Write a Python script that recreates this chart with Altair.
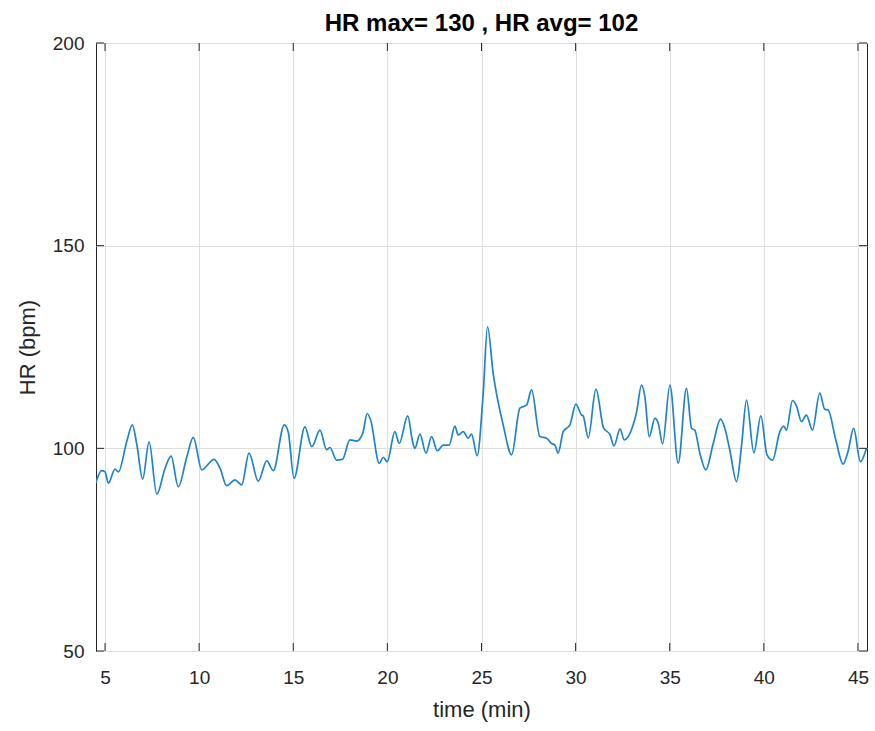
import altair as alt
import pandas as pd

# time (min) and heart rate (bpm)
time_min = [4.50, 4.82, 5.00, 5.18, 5.53, 5.71, 6.15, 6.45, 6.68, 7.00, 7.34, 7.75, 8.19, 8.51,
            8.89, 9.34, 9.69, 10.14, 10.79, 11.11, 11.46, 11.90, 12.26, 12.65, 13.14, 13.59,
            13.94, 14.52, 14.73, 15.04, 15.62, 15.98, 16.42, 16.77, 16.95, 17.30, 17.62, 18.01,
            18.37, 18.69, 18.93, 19.11, 19.57, 19.78, 19.99, 20.40, 20.63, 21.08, 21.34, 21.46,
            21.73, 22.05, 22.35, 22.65, 22.97, 23.28, 23.59, 23.76, 24.03, 24.29, 24.47, 24.77,
            25.09, 25.32, 25.62, 26.15, 26.60, 27.04, 27.40, 27.66, 28.10, 28.46, 28.72, 28.90,
            29.07, 29.34, 29.70, 30.01, 30.32, 30.40, 30.67, 31.08, 31.48, 31.83, 32.04, 32.36,
            32.58, 33.06, 33.24, 33.50, 33.68, 33.91, 34.21, 34.39, 34.62, 35.01, 35.45, 35.89,
            36.16, 36.33, 36.60, 36.92, 37.31, 37.70, 37.93, 38.19, 38.55, 38.81, 39.08, 39.47,
            39.84, 40.17, 40.46, 40.85, 41.06, 41.20, 41.52, 41.73, 42.00, 42.26, 42.58, 42.97,
            43.24, 43.41, 43.82, 44.21, 44.47, 44.77, 45.13, 45.45]
hr_bpm = [91.4, 94.5, 94.2, 91.4, 94.9, 94.2, 101.6, 105.8, 101.2, 92.4, 101.6, 88.7, 95.1, 98.1,
          90.5, 97.8, 102.7, 94.7, 97.3, 95.1, 90.8, 92.2, 91.0, 98.8, 91.9, 96.9,
          94.5, 105.8, 104.1, 92.6, 105.3, 100.4, 104.5, 99.7, 100.2, 97.1, 97.3, 102.1,
          101.8, 103.7, 108.6, 107.0, 96.3, 97.8, 96.7, 104.1, 101.2, 108.0, 101.6, 100.0,
          103.5, 98.8, 102.9, 99.4, 100.8, 100.8, 105.5, 103.3, 104.1, 102.5, 103.5, 98.2,
          113.6, 130.0, 118.5, 105.8, 98.4, 109.9, 110.7, 114.4, 102.9, 102.5, 101.2, 100.8,
          98.8, 104.1, 105.8, 110.9, 108.2, 108.0, 102.6, 114.6, 105.1, 103.3, 100.6, 104.8,
          102.1, 105.8, 109.0, 115.6, 112.7, 102.9, 107.4, 106.2, 101.1, 115.6, 96.3, 114.8,
          104.9, 104.5, 98.8, 94.7, 101.2, 107.2, 104.9, 99.6, 91.8, 100.4, 111.9, 98.9,
          108.0, 98.4, 97.1, 104.1, 105.5, 104.5, 111.8, 110.5, 106.6, 108.2, 104.5, 113.6,
          109.6, 109.5, 102.1, 96.1, 99.2, 104.9, 96.7, 100.0]

x_ticks = [5, 10, 15, 20, 25, 30, 35, 40, 45]
y_ticks = [50, 100, 150, 200]

W, H = 771, 608
FONT = "Liberation Sans"
INK = "#262626"

df = pd.DataFrame({"t": time_min, "hr": hr_bpm})
xt = pd.DataFrame({"t": x_ticks})
yt = pd.DataFrame({"hr": y_ticks})

xscale = alt.Scale(domain=[4.52, 45.48], nice=False, zero=False)
yscale = alt.Scale(domain=[50, 200], nice=False, zero=False)
xaxis = alt.Axis(values=x_ticks, title="time (min)", grid=True, ticks=False, domain=False,
                 labelPadding=17, titlePadding=12)
yaxis = alt.Axis(values=y_ticks, title="HR (bpm)", grid=True, ticks=False, domain=False,
                 labelPadding=12, titlePadding=13)

X = alt.X("t:Q", scale=xscale, axis=xaxis)
Y = alt.Y("hr:Q", scale=yscale, axis=yaxis)

line = alt.Chart(df).mark_line(color="#1f82cc", strokeWidth=1.7, interpolate="monotone", clip=True).encode(
    x=X, y=Y)

xb = alt.Chart(xt).mark_rule(color=INK, strokeWidth=1).encode(
    x=X, y=alt.value(H), y2=alt.value(H - 8))
xtop = alt.Chart(xt).mark_rule(color=INK, strokeWidth=1).encode(
    x=X, y=alt.value(0), y2=alt.value(8))
yl = alt.Chart(yt).mark_rule(color=INK, strokeWidth=1).encode(
    y=Y, x=alt.value(0), x2=alt.value(8))
yr = alt.Chart(yt).mark_rule(color=INK, strokeWidth=1).encode(
    y=Y, x=alt.value(W), x2=alt.value(W - 8))

chart = alt.layer(line, xb, xtop, yl, yr).properties(
    width=W, height=H,
    title=alt.TitleParams("HR max= 130 , HR avg= 102", fontSize=24, font=FONT, fontWeight="bold",
                          color="#000000", offset=12, dy=14, anchor="middle"),
    autosize=alt.AutoSizeParams(type="none"),
    padding={"left": 96, "top": 43, "right": 8, "bottom": 80},
    background="white",
).configure_view(
    stroke=INK, strokeWidth=1
).configure_axis(
    labelFont=FONT, labelFontSize=19, labelColor=INK,
    titleFont=FONT, titleFontSize=22, titleColor=INK, titleFontWeight="normal",
    gridColor="#dedede", gridWidth=1,
)

chart.save("out.html", embed_options={"renderer": "svg", "actions": False})
